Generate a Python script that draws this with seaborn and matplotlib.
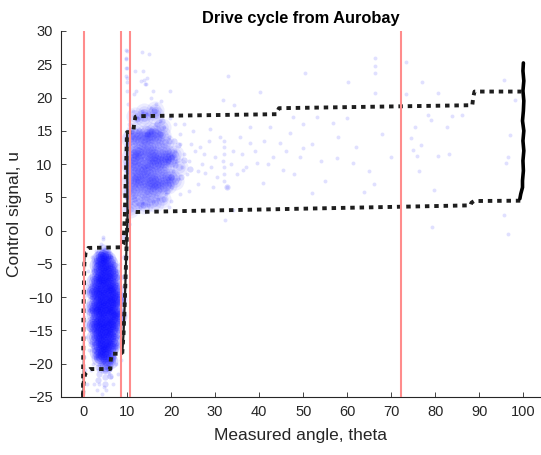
import matplotlib
matplotlib.use("Agg")
import matplotlib.pyplot as plt
import seaborn as sns

# ---------------- data ----------------
title = "Drive cycle from Aurobay"
xlabel = "Measured angle, theta"
ylabel = "Control signal, u"
xticks = list(range(0, 101, 10))
yticks = list(range(-25, 31, 5))

# red reference lines
red_lines = [0.2, 8.7, 10.7, 72.2]

# opening (upper) branch of the lookup curve
up_x = [0.0, 0.1, 0.3, 0.6, 1.2, 8.8, 9.2, 9.5, 9.8, 10.0, 11.4, 11.6, 11.9, 12.3,
        44.0, 44.2, 44.5, 88.4, 88.6, 88.9, 99.5]
up_u = [-25, -12, -5, -3.2, -2.6, -2.5, -2.0, 2.5, 10, 14.8, 14.8, 16.0, 17.1, 17.2,
        17.5, 18.0, 18.4, 18.85, 20.0, 20.9, 20.9]
# closing (lower) branch
down_x = [99.3, 88.8, 88.2, 88.0, 12.0, 10.4, 10.1, 9.8, 9.5, 9.2, 8.9, 6.5, 6.3, 6.2,
          1.6, 0.5, 0.1, 0.0]
down_u = [4.5, 4.45, 4.2, 3.8, 2.8, 2.9, 2.0, -4.0, -10.5, -15.5, -18.5, -18.5, -19.5,
          -20.8, -20.8, -21.5, -23, -25]
# dense (solid looking) parts
ramp_x = [8.9, 9.2, 9.5, 9.8, 10.1, 10.0]
ramp_u = [-18.5, -15.5, -10.5, -4.0, 2.0, 14.8]
left_x = [0.0, 0.1, 0.2, 0.3, 0.5]
left_u = [-25, -18, -12, -6, -3.2]
wall_x = [100.0, 99.9, 100.1, 99.9, 100.1, 100.0, 99.8, 100.1, 99.9, 100.1, 99.9,
          100.0, 99.8, 99.8, 99.4, 99.2]
wall_u = [25.2, 24, 22.5, 21, 19.5, 18, 16.5, 15, 13.5, 12, 10.5, 9, 7.5, 6.5, 5.5, 4.8]

# measured samples: lower cloud core, by column of theta
lo_cols_x = [2.1, 2.6, 3.1, 3.6, 4.1, 4.6, 5.1, 5.6, 6.1, 6.6, 7.1, 7.6, 8.1]
lo_cols_u = [
    [-9.0, -11.6, -14.1],
    [-7.5, -9.2, -10.9, -12.6, -14.3, -16.0],
    [-5.2, -6.8, -8.5, -10.1, -11.8, -13.5, -15.1, -16.8, -18.3],
    [-4.3, -5.9, -7.6, -9.3, -11.0, -12.6, -14.2, -15.9, -17.5, -19.2],
    [-4.0, -5.6, -7.2, -8.9, -10.5, -12.2, -13.9, -15.6, -17.2, -18.9],
    [-3.6, -4.9, -6.6, -8.2, -9.9, -11.6, -13.3, -14.9, -16.6, -18.2],
    [-3.8, -5.4, -7.1, -8.7, -10.4, -12.0, -13.7, -15.3, -17.0, -18.6, -20.3],
    [-4.2, -5.9, -7.5, -9.2, -10.9, -12.5, -14.2, -15.8, -17.5, -19.1],
    [-4.8, -6.4, -8.1, -9.7, -11.4, -13.0, -14.7, -16.3, -18.0, -19.6],
    [-5.7, -7.4, -9.0, -10.7, -12.3, -14.0, -15.6, -17.3],
    [-6.8, -8.5, -10.1, -11.8, -13.4, -15.1, -16.6],
    [-8.9, -10.6, -12.3, -13.9],
    [-10.2, -12.8],
]
# upper cloud core, by column of theta
hi_cols_x = [10.6, 11.2, 11.9, 12.5, 13.2, 13.9, 14.5, 15.2, 15.9, 16.4, 17.0, 17.9,
             18.6, 19.3, 20.0, 20.8, 21.8]
hi_cols_u = [
    [3.2, 5.9, 7.4, 9.8, 11.1, 13.7],
    [5.6, 8.4, 9.7, 12.3, 14.2],
    [4.1, 6.6, 7.9, 10.3, 11.4, 13.9, 15.0, 17.3],
    [7.3, 8.9, 11.2, 12.1],
    [5.1, 7.8, 9.1, 11.8, 13.6],
    [3.8, 6.2, 7.3, 9.7, 10.8, 13.4, 14.5, 16.9, 17.8],
    [5.9, 8.6, 9.9, 12.6, 14.3],
    [4.8, 7.6, 8.8, 11.4, 12.4, 15.0],
    [6.4, 7.5, 10.3, 11.3, 14.0],
    [4.2, 6.7, 7.8, 10.2, 11.4, 13.9, 15.0, 17.4, 18.1],
    [6.1, 8.9, 10.0, 12.8],
    [4.7, 7.2, 8.3, 10.8, 11.8, 14.4, 15.5],
    [6.8, 9.5, 10.7, 13.3],
    [6.9, 8.0, 10.7, 11.9],
    [8.1, 10.9],
    [7.5, 11.5],
    [9.5],
]
# cloud fringes
lo_mid_x = [2.2, 2.4, 2.5, 2.6, 3.0, 3.4, 4.0, 4.4, 4.9, 5.0, 5.5, 6.0, 6.3, 6.7, 7.0,
            7.4, 7.8, 7.9, 8.0, 8.2, 2.0, 1.8, 9.4, 9.5, 9.4, 5.1, 5.0, 3.6, 6.1, 4.6,
            3.5, 6.0]
lo_mid_u = [-10, -6, -15, -18, -4.5, -20.5, -3.5, -20, -3, -21, -20.5, -3.8, -19.5, -19,
            -5.2, -17.5, -7, -15, -12.5, -9.5, -12, -17, -1, -4, -7, -22, -23, -21.5,
            -21.8, -2.5, -22.5, -20.8]
lo_halo_x = [1.2, 1.5, 1.3, 1.6, 1.4, 1.8, 2.0, 2.2, 2.1, 2.3, 2.2, 2.5, 2.9, 3.0, 3.4,
             3.6, 4.0, 4.3, 4.6, 4.8, 5.3, 5.2, 5.8, 5.9, 6.4, 6.3, 6.9, 7.0, 7.5, 7.8,
             8.0, 8.2, 8.3, 8.1, 8.5, 7.4, 0.3, 0.3, 0.4, 0.3, 0.5, 0.5, 1.0, 3.1, 4.2,
             6.8, 7.9, 8.6, 4.6]
lo_halo_u = [-6, -9, -12, -15, -18, -21, -4, -8, -13, -17, -20, -23, -3, -19, -21,
             -23, -2, -21, -1.2, -23.5, -2.5, -24, -3, -21.5, -4, -22, -4.5, -19, -6, -17,
             -8, -11, -14, -16, -5, -20, -10, -13, -16, -19, -8, -21, -23, -24, -24.5,
             -23, -21.5, -19.5, -1.0]
hi_mid_x = [10.8, 11.5, 12.6, 13.6, 14.6, 15.5, 16.8, 17.5, 18.5, 19.0, 19.5, 20.0, 20.3,
            21.0, 12.2, 13.9, 16.2, 18.0, 19.3, 20.6, 32.8, 10.2, 10.1, 10.3, 10.2,
            22.3, 23.0, 21.6, 24.2]
hi_mid_u = [15, 4.8, 15, 3.8, 14.5, 15, 16, 14.5, 4.8, 6, 13.5, 8, 11, 9.8, 16.8, 17.5,
            18, 16.5, 10.5, 13.5, 6.5, 1.0, 5.0, 9.0, 13.0, 8.0, 10.6, 12.8, 9.2]
hi_halo_x = [10.4, 10.5, 10.2, 10.0, 10.1, 9.9, 9.8, 10.0, 11.3, 11.5, 12.3, 12.5, 13.0,
             13.3, 13.5, 14.5, 14.2, 14.5, 15.0, 15.4, 15.8, 16.5, 17.0, 17.5, 18.5, 18.8,
             19.5, 20.0, 20.5, 20.8, 21.2, 21.5, 22.0, 22.5, 23.0, 23.5, 24.0, 25.5, 26.0,
             27.0, 12.0, 13.1, 11.8, 16.0, 17.8, 19.8, 21.0, 20.0, 22.0, 24.0, 11.0, 14.7,
             19.5, 9.7, 9.8, 9.7, 9.8, 9.9, 13.4, 13.6, 13.8, 14.0, 15.5, 19.8]
hi_halo_u = [5, 16, 19, 21, 23, 24.5, 26, 27, 18, 20.5, 17, 4, 3.5, 18, 4.2, 17.5, 22, 23,
             26.5, 18.5, 4.5, 19, 4.8, 16.5, 15.5, 5.5, 14, 6.5, 9, 12, 10.5, 7.8, 13, 9.5,
             11.5, 8.5, 10.5, 12, 9, 10, 21, 22.5, 24, 21, 19.5, 17, 16, 4.5, 5.5, 6, 4.2,
             3.8, 3.5, 27.2, 25.8, 24.5, 23.3, 22.3, 26.8, 24, 22.6, 22.0, 20, 21]

# sparse samples over the rest of the range
sp_x = [32.0, 32.0, 32.1, 31.9, 32.0, 32.1, 32.0, 66.3, 66.3, 66.3, 66.3, 34.2, 40.2,
        31.9, 50.5, 33.0, 60.2, 56.8, 59.9, 42.5, 47.1, 50.0, 57.6, 61.4, 55.0, 52.0,
        63.7, 32.7, 34.1, 32.3, 43.2, 45.5, 39.5, 38.0, 35.7, 28.9, 26.6, 27.8, 29.6,
        40.9, 36.4, 47.7, 53.1, 44.8, 49.3, 73.4, 76.9, 73.4, 80.6, 95.6, 98.1, 78.4,
        79.0, 83.7, 86.0, 75.4, 82.6, 74.4, 75.0, 76.7, 75.9, 80.7, 83.1, 76.3, 96.9,
        96.6, 96.1, 79.7, 95.6, 79.3, 96.6, 22.0, 23.0, 24.5, 25.0, 26.0, 27.5, 28.5,
        29.0, 30.0, 30.5, 31.0, 33.5, 34.0, 35.0, 36.0, 37.0, 38.0, 39.0, 41.0, 42.0,
        46.0, 48.0, 50.0, 52.0, 54.0, 58.0, 62.0, 65.0, 68.0, 70.0, 66.0]
sp_u = [7.5, 8.5, 9.5, 10.5, 11.5, 12.5, 13.5, 26.0, 24.7, 23.7, 20.7, 18.9, 20.9, 19.7,
        23.7, 23.2, 22.4, 16.2, 17.0, 15.5, 14.7, 12.4, 10.9, 10.2, 7.4, 5.7, 5.8, 6.6,
        3.1, 1.6, 11.1, 9.1, 10.2, 13.2, 14.1, 15.2, 12.6, 8.7, 6.6, 7.2, 9.1, 17.1,
        17.1, 13.2, 11.1, 25.4, 22.4, 20.6, 20.7, 22.7, 19.7, 17.4, 16.7, 17.3, 17.4,
        15.6, 15.6, 13.9, 12.1, 12.9, 11.2, 11.2, 11.5, 9.0, 14.4, 11.1, 10.1, 6.1, 2.3,
        0.5, -0.5, 14.5, 16.0, 13.0, 15.0, 7.0, 11.5, 13.5, 9.5, 11.0, 8.0, 14.0, 10.0,
        12.0, 8.5, 11.5, 9.5, 15.5, 12.0, 13.5, 10.0, 12.0, 8.5, 16.0, 13.0, 10.5,
        14.0, 12.5, 9.0, 14.5, 11.0, 7.0]


def flatten(cols_x, cols_u):
    xs, us = [], []
    for cx, cu in zip(cols_x, cols_u):
        xs += [cx] * len(cu)
        us += cu
    return xs, us


lo_core_x, lo_core_u = flatten(lo_cols_x, lo_cols_u)
hi_core_x, hi_core_u = flatten(hi_cols_x, hi_cols_u)

# ---------------- figure ----------------
sns.set_style("ticks")
plt.rcParams["font.family"] = ["Liberation Sans", "DejaVu Sans"]
fig = plt.figure(figsize=(5.41, 4.55), dpi=100)
ax = fig.add_axes([61 / 541, 58 / 455, 480 / 541, 366 / 455])

line_col = "#1e1e1e"
ax.plot(left_x, left_u, color=line_col, lw=1.0, alpha=0.8)
ax.plot(ramp_x, ramp_u, color=line_col, lw=1.6)
for bx, bu in ((up_x, up_u), (down_x, down_u)):
    ln, = ax.plot(bx, bu, color=line_col, lw=2.8, solid_capstyle="butt")
    ln.set_dashes([1.15, 1.25])
    ln.set_dash_capstyle("butt")
ax.plot(wall_x, wall_u, color="black", lw=2.6, solid_capstyle="round")

blue = "#0000ff"
sns.scatterplot(x=lo_halo_x + hi_halo_x + sp_x, y=lo_halo_u + hi_halo_u + sp_u,
                color=blue, alpha=0.12, s=8, linewidth=0, ax=ax)
sns.scatterplot(x=lo_mid_x + hi_mid_x, y=lo_mid_u + hi_mid_u,
                color=blue, alpha=0.14, s=20, linewidth=0, ax=ax)
# soft points: each sample drawn as concentric translucent discs
for size, a in ((170, 0.07), (80, 0.08), (25, 0.09)):
    sns.scatterplot(x=hi_core_x, y=hi_core_u, color=blue, alpha=a, s=size,
                    linewidth=0, ax=ax)
for size, a in ((130, 0.14), (65, 0.15), (25, 0.15)):
    sns.scatterplot(x=lo_core_x, y=lo_core_u, color=blue, alpha=a, s=size,
                    linewidth=0, ax=ax)

for xv in red_lines:
    ax.axvline(xv, color="#ff8c8c", lw=1.5, zorder=5)

ax.set_xlim(-5, 104)
ax.set_ylim(-25, 30)
ax.set_xticks(xticks)
ax.set_yticks(yticks)
ax.tick_params(direction="in", length=3.5, width=0.6, colors="#262626",
               labelsize=10.5, pad=6)
for side in ("top", "right"):
    ax.spines[side].set_visible(False)
for side in ("left", "bottom"):
    ax.spines[side].set_linewidth(0.8)
    ax.spines[side].set_color("#262626")
ax.set_xlabel(xlabel, fontsize=12.5, color="#262626", labelpad=6)
ax.set_ylabel(ylabel, fontsize=12.5, color="#262626", labelpad=4)
ax.set_title(title, fontsize=11.8, fontweight="bold", color="black", pad=6)

fig.savefig("out.png", dpi=100)
